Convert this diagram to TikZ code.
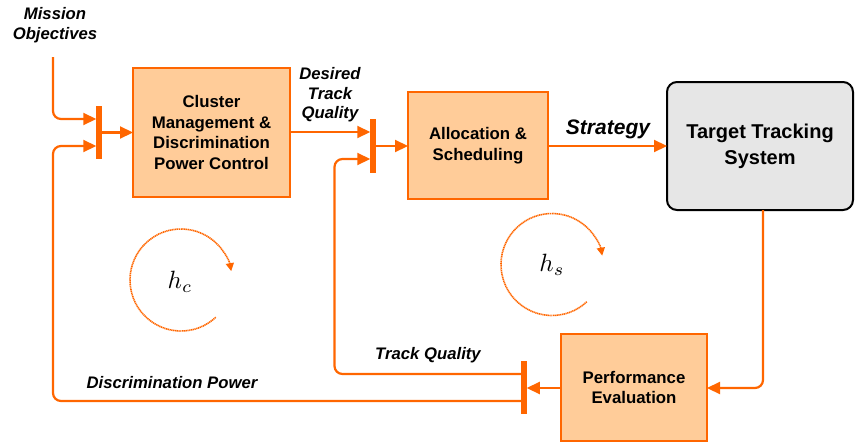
\documentclass[tikz,border=0pt]{standalone}
\usepackage[no-math]{fontspec}
\setmainfont{Liberation Sans}
\usetikzlibrary{arrows.meta}
\definecolor{org}{HTML}{FF6600}
\definecolor{boxfill}{HTML}{FFCC99}
\definecolor{ttsfill}{HTML}{E6E6E6}
\begin{document}
\begin{tikzpicture}[x=1pt,y=-1pt,
  conn/.style={draw=org, line width=2.2pt, rounded corners=8pt, -{Triangle[length=13pt,width=12pt]}},
  blk/.style={draw=org, fill=boxfill, line width=2.5pt, align=center, font=\fontsize{16.8}{20.5}\selectfont\bfseries, inner sep=0pt, outer sep=0pt},
  ttsbox/.style={draw=black, fill=ttsfill, line width=2pt, rounded corners=10pt, align=center, font=\fontsize{20}{26}\selectfont\bfseries, inner sep=0pt, outer sep=0pt},
  bar/.style={fill=org, minimum width=5.5pt, inner sep=0pt, outer sep=0pt, draw=none},
  lbl/.style={font=\fontsize{16.7}{19.5}\selectfont\bfseries\itshape, align=center, inner sep=0pt},
  loopc/.style={draw=org, line width=1.6pt, dash pattern=on 1.2pt off 0.6pt, -{Triangle[length=8pt,width=8pt]}},
  hlbl/.style={inner sep=0pt, scale=2.5},
]
\useasboundingbox (0,0) rectangle (855,442);

% blocks
\node[blk, minimum width=157pt, minimum height=129pt] (box1) at (211.5,132.5) {Cluster\\Management \&\\Discrimination\\Power Control};
\node[blk, minimum width=140pt, minimum height=107pt] (box2) at (478,145.5) {Allocation \&\\Scheduling};
\node[ttsbox, minimum width=186pt, minimum height=128pt] (tts) at (760,146) {Target Tracking\\System};
\node[blk, minimum width=146pt, minimum height=107pt] (perf) at (634,387.5) {Performance\\Evaluation};

% summing bars
\node[bar, minimum height=53pt] (bar1) at (99,132.5) {};
\node[bar, minimum height=54pt] (bar2) at (373,146) {};
\node[bar, minimum height=53pt] (bar3) at (524,387.5) {};

% labels
\node[lbl] (mo) at (55,25) {Mission\\Objectives};
\node[lbl] (dtq) at (330,95) {Desired\\Track\\Quality};
\node[lbl, font=\fontsize{21}{24}\selectfont\bfseries\itshape] (strat) at (608,129) {Strategy};
\node[lbl] (tq) at (428,355) {Track Quality};
\node[lbl] (dp) at (172,383) {Discrimination Power};
\coordinate (mostart) at (53,57);

% connectors
\draw[conn] (mostart) |- (bar1.west |- 0,119);
\draw[conn] (bar1.east) -- (box1.west);
\draw[conn] (bar3.west |- 0,401) -| (53,146) -- (bar1.west |- 0,146);
\draw[conn] (box1.east |- 0,132) -- (bar2.west |- 0,132);
\draw[conn] (bar3.west |- 0,374) -| (334.5,159) -- (bar2.west |- 0,159);
\draw[conn] (bar2.east) -- (bar2.east -| box2.west);
\draw[conn] (box2.east |- 0,146) -- (tts.west |- 0,146);
\draw[conn] (tts.south -| 763,0) |- (perf.east |- 0,388);
\draw[conn] (perf.west |- 0,388) -- (bar3.east |- 0,388);

% loops
\node[hlbl] (hc) at (180,282) {$h_c$};
\node[hlbl] (hs) at (552,265) {$h_s$};
\draw[loopc] (181,280) ++(47:51) arc[start angle=47, end angle=350, radius=51];
\draw[loopc] (552,264.5) ++(47:51) arc[start angle=47, end angle=350, radius=51];
\end{tikzpicture}
\end{document}
